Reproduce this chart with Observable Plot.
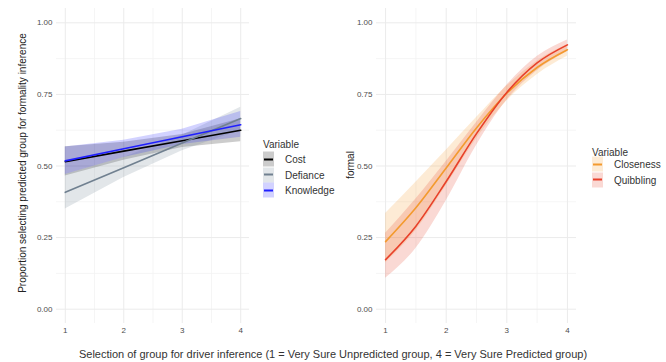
<!DOCTYPE html>
<html>
<head>
<meta charset="utf-8">
<script src="https://cdn.jsdelivr.net/npm/d3@7"></script>
<script src="https://cdn.jsdelivr.net/npm/@observablehq/plot@0.6"></script>
<style>
  html, body { margin: 0; padding: 0; background: #fff; }
  #wrap { position: relative; width: 666px; height: 362px; font-family: "Liberation Sans", Arial, sans-serif; overflow: hidden; }
  .panel { position: absolute; top: 0; }
  .ytitle { position: absolute; white-space: nowrap; transform: translate(-50%, -50%) rotate(-90deg); color: #222; }
  .xtitle { position: absolute; white-space: nowrap; transform: translate(-50%, -50%); color: #333; font-size: 11px; }
  .leg-title { position: absolute; font-size: 10px; color: #333; transform: translateY(-50%); }
  .leg-key { position: absolute; width: 11px; height: 15px; transform: translateY(-50%); }
  .leg-key .ln { position: absolute; left: 1px; right: 1px; top: 6.5px; height: 2px; }
  .leg-label { position: absolute; font-size: 10px; color: #333; transform: translateY(-50%); white-space: nowrap; }
</style>
</head>
<body>
<div id="wrap"></div>
<script>
// ---------- data ----------
const xTicks = [1, 2, 3, 4];
const yTicks = [0, 0.25, 0.5, 0.75, 1];

// Left panel
const leftVars = ["Cost", "Defiance", "Knowledge"];
const leftColors = ["#000000", "#708090", "#1f1fff"];
const leftX = [1, 2, 3, 4];
const costFit = [0.515, 0.552, 0.588, 0.625];
const costLo = [0.465, 0.520, 0.565, 0.585];
const costHi = [0.567, 0.583, 0.610, 0.665];
const defianceFit = [0.408, 0.494, 0.580, 0.666];
const defianceLo = [0.350, 0.460, 0.553, 0.625];
const defianceHi = [0.470, 0.530, 0.607, 0.705];
const knowledgeFit = [0.518, 0.560, 0.602, 0.644];
const knowledgeLo = [0.470, 0.530, 0.575, 0.600];
const knowledgeHi = [0.566, 0.590, 0.628, 0.690];

// Right panel
const rightVars = ["Closeness", "Quibbling"];
const rightColors = ["#f39a2e", "#e8402a"];
const rightX = [1, 1.5, 2, 2.5, 3, 3.5, 4];
const closenessFit = [0.236, 0.354, 0.493, 0.633, 0.754, 0.844, 0.906];
const closenessLo = [0.161, 0.275, 0.431, 0.595, 0.727, 0.819, 0.883];
const closenessHi = [0.334, 0.443, 0.555, 0.669, 0.779, 0.866, 0.924];
const quibblingFit = [0.173, 0.290, 0.446, 0.613, 0.757, 0.860, 0.923];
const quibblingLo = [0.108, 0.212, 0.379, 0.572, 0.730, 0.833, 0.900];
const quibblingHi = [0.265, 0.385, 0.516, 0.652, 0.782, 0.882, 0.940];

const yTitleLeft = "Proportion selecting predicted group for formality inference";
const yTitleRight = "formal";
const xTitle = "Selection of group for driver inference (1 = Very Sure Unpredicted group, 4 = Very Sure Predicted group)";
const legendTitle = "Variable";

// ---------- build tables ----------
function table(vars, xs, fits, los, his) {
  const rows = [];
  vars.forEach((v, i) => xs.forEach((x, j) => rows.push({Variable: v, x, fit: fits[i][j], lo: los[i][j], hi: his[i][j]})));
  return rows;
}
const leftData = table(leftVars, leftX, [costFit, defianceFit, knowledgeFit], [costLo, defianceLo, knowledgeLo], [costHi, defianceHi, knowledgeHi]);
const rightData = table(rightVars, rightX, [closenessFit, quibblingFit], [closenessLo, quibblingLo], [closenessHi, quibblingHi]);

const minorX = [1.5, 2.5, 3.5];
const minorY = [0.125, 0.375, 0.625, 0.875];

function panel(data, vars, colors, marginLeft, marginRight, curve) {
  return Plot.plot({
    width: 260, height: 340,
    marginLeft, marginRight, marginTop: 8, marginBottom: 17,
    x: {domain: [0.85, 4.15]},
    y: {domain: [-0.05, 1.05]},
    color: {domain: vars, range: colors},
    style: {fontFamily: "Liberation Sans, Arial, sans-serif", fontSize: "8px", color: "#4d4d4d", background: "transparent", overflow: "visible"},
    marks: [
      Plot.ruleX(minorX, {stroke: "#f2f2f2", strokeWidth: 0.8}),
      Plot.ruleY(minorY, {stroke: "#f2f2f2", strokeWidth: 0.8}),
      Plot.ruleX(xTicks, {stroke: "#ebebeb", strokeWidth: 1}),
      Plot.ruleY(yTicks, {stroke: "#ebebeb", strokeWidth: 1}),
      Plot.areaY(data, {x: "x", y1: "lo", y2: "hi", fill: "Variable", fillOpacity: 0.2, z: "Variable", curve}),
      Plot.lineY(data, {x: "x", y: "fit", stroke: "Variable", strokeWidth: 1.6, z: "Variable", curve}),
      Plot.axisX({ticks: xTicks, tickFormat: d3.format("d"), tickSize: 0, tickPadding: 4, label: null, fill: "#4d4d4d"}),
      Plot.axisY({ticks: yTicks, tickFormat: d3.format(".2f"), tickSize: 0, tickPadding: 4, label: null, fill: "#4d4d4d"})
    ]
  });
}

const wrap = document.getElementById("wrap");
function place(el, left) { el.classList.add("panel"); el.style.left = left + "px"; wrap.appendChild(el); }
place(panel(leftData, leftVars, leftColors, 56, 11, "linear"), 0);
place(panel(rightData, rightVars, rightColors, 46, 14, "monotone-x"), 330);

function addDiv(cls, text, left, top, extra) {
  const d = document.createElement("div");
  d.className = cls;
  if (text != null) d.textContent = text;
  d.style.left = left + "px"; d.style.top = top + "px";
  if (extra) Object.assign(d.style, extra);
  wrap.appendChild(d);
  return d;
}
addDiv("ytitle", yTitleLeft, 22, 163, {fontSize: "10px"});
addDiv("ytitle", yTitleRight, 350, 165, {fontSize: "10px"});
addDiv("xtitle", xTitle, 333, 354);

function legend(vars, colors, x, yTitle, yFirst, step) {
  addDiv("leg-title", legendTitle, x, yTitle);
  vars.forEach((v, i) => {
    const y = yFirst + i * step;
    const c = d3.color(colors[i]);
    const key = addDiv("leg-key", null, x, y, {background: `rgba(${c.r},${c.g},${c.b},0.2)`});
    const ln = document.createElement("div");
    ln.className = "ln"; ln.style.background = colors[i];
    key.appendChild(ln);
    addDiv("leg-label", v, x + 22, y);
  });
}
legend(leftVars, leftColors, 263, 144, 159, 15.5);
legend(rightVars, rightColors, 592, 152, 164, 15.5);
</script>
</body>
</html>
